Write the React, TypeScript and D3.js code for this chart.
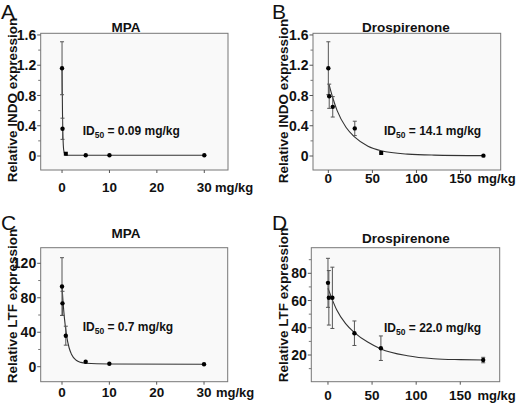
import React from "react";
import * as d3 from "d3";

// ---- data ----
const mpaDoses = [0, 0.1, 0.8, 5, 10, 30];
const drspDoses = [0, 1, 5, 30, 60, 176];

const indoMpaMean = [1.16, 0.36, 0.03, 0.01, 0.01, 0.01];
const indoMpaErr = [0.35, 0.14, 0, 0, 0, 0];
const indoMpaCurveX = [0, 0.1, 0.2, 0.35, 0.6, 1, 5, 30];
const indoMpaCurveY = [1.16, 0.55, 0.25, 0.08, 0.02, 0.01, 0.01, 0.01];

const indoDrspMean = [1.16, 0.79, 0.65, 0.365, 0.04, 0.005];
const indoDrspErr = [0.35, 0.16, 0.135, 0.095, 0, 0];
const indoDrspCurveX = [1, 3, 5, 10, 20, 30, 45, 60, 90, 120, 176];
const indoDrspCurveY = [0.94, 0.85, 0.77, 0.6, 0.38, 0.25, 0.13, 0.07, 0.025, 0.012, 0.005];

const ltfMpaMean = [93, 73.5, 36, 5.8, 3.5, 2.8];
const ltfMpaErr = [33.5, 14, 11, 0, 0, 0];
const ltfMpaCurveX = [0, 0.25, 0.5, 1, 1.5, 2, 3, 4, 5, 10, 30];
const ltfMpaCurveY = [93, 73, 57, 35, 22, 14.5, 7.5, 5, 4, 3.2, 2.8];

const ltfDrspMean = [73, 62, 62, 36, 25, 16.3];
const ltfDrspErr = [18, 20, 22.5, 9, 9, 2];
const ltfDrspCurveX = [0, 5, 10, 20, 30, 45, 60, 90, 120, 150, 176];
const ltfDrspCurveY = [69, 60.5, 53, 43, 36.5, 29.5, 24.5, 19.5, 17.3, 16.6, 16.3];

const mpaXTicks = [0, 10, 20, 30];
const drspXTicks = [0, 50, 100, 150];
const indoYTicks = [0, 0.4, 0.8, 1.2, 1.6];
const indoYMinor = [0.2, 0.6, 1.0, 1.4];
const ltfMpaYTicks = [0, 40, 80, 120];
const ltfMpaYMinor = [20, 60, 100];
const ltfDrspYTicks = [20, 40, 60, 80];
const ltfDrspYMinor = [10, 30, 50, 70, 90];

const panelLetters = ["A", "B", "C", "D"];
const titles = ["MPA", "Drospirenone", "MPA", "Drospirenone"];
const yLabels = [
  "Relative INDO expression",
  "Relative INDO expression",
  "Relative LTF expression",
  "Relative LTF expression",
];
const id50Values = ["0.09", "14.1", "0.7", "22.0"];
const unitLabel = "mg/kg";

// ---- layout ----
const FONT = "'Liberation Sans', Arial, Helvetica, sans-serif";

const panels = [
  {
    doses: mpaDoses, mean: indoMpaMean, err: indoMpaErr, cx: indoMpaCurveX, cy: indoMpaCurveY,
    xTicks: mpaXTicks, yTicks: indoYTicks, yMinor: indoYMinor, yFmt: (v: number) => (v === 0 ? "0" : d3.format(".1f")(v)),
    box: { x0: 40.7, x1: 228, y0: 33.3, y1: 170 }, xDom: [-4.5, 35], yDom: [-0.185, 1.622],
    letter: { x: 1, y: 19 }, title: { x: 126, y: 31.7 }, yl: { x: 17.3, y: 100 },
    id50: { x: 82.7, y: 135 }, xlabY: 192, unitX: 215, squares: [2],
  },
  {
    doses: drspDoses, mean: indoDrspMean, err: indoDrspErr, cx: indoDrspCurveX, cy: indoDrspCurveY,
    xTicks: drspXTicks, yTicks: indoYTicks, yMinor: indoYMinor, yFmt: (v: number) => (v === 0 ? "0" : d3.format(".1f")(v)),
    box: { x0: 313, x1: 500.7, y0: 33.3, y1: 170 }, xDom: [-17.4, 195.6], yDom: [-0.185, 1.622],
    letter: { x: 272, y: 19 }, title: { x: 405.8, y: 31.7 }, yl: { x: 288, y: 101 },
    id50: { x: 384, y: 135 }, xlabY: 182.5, unitX: 477.5, squares: [4],
  },
  {
    doses: mpaDoses, mean: ltfMpaMean, err: ltfMpaErr, cx: ltfMpaCurveX, cy: ltfMpaCurveY,
    xTicks: mpaXTicks, yTicks: ltfMpaYTicks, yMinor: ltfMpaYMinor, yFmt: (v: number) => String(v),
    box: { x0: 40.7, x1: 227.7, y0: 247.7, y1: 381.7 }, xDom: [-4.5, 35], yDom: [-17.4, 138.1],
    letter: { x: 1, y: 230 }, title: { x: 126, y: 238.3 }, yl: { x: 16.7, y: 306 },
    id50: { x: 82.7, y: 330.7 }, xlabY: 396.5, unitX: 216, squares: [] as number[],
  },
  {
    doses: drspDoses, mean: ltfDrspMean, err: ltfDrspErr, cx: ltfDrspCurveX, cy: ltfDrspCurveY,
    xTicks: drspXTicks, yTicks: ltfDrspYTicks, yMinor: ltfDrspYMinor, yFmt: (v: number) => String(v),
    box: { x0: 311.3, x1: 499.7, y0: 247.7, y1: 381.7 }, xDom: [-18.9, 194.7], yDom: [0.4, 98.8],
    letter: { x: 272, y: 230 }, title: { x: 405.8, y: 242.7 }, yl: { x: 288, y: 305 },
    id50: { x: 384, y: 331.7 }, xlabY: 399.5, unitX: 477.5, squares: [] as number[],
  },
];

function Panel({ p, i }: { p: (typeof panels)[number]; i: number }) {
  const { box } = p;
  const x = d3.scaleLinear().domain(p.xDom).range([box.x0, box.x1]);
  const y = d3.scaleLinear().domain(p.yDom).range([box.y1, box.y0]);
  const pts = p.cx.map((v, k) => [v, p.cy[k]] as [number, number]);
  const line = d3
    .line<[number, number]>()
    .x((d) => x(d[0]))
    .y((d) => y(d[1]))
    .curve(d3.curveMonotoneX);
  return (
    <g>
      <text x={p.letter.x} y={p.letter.y} fontSize={21} fontFamily={FONT} fill="#111">
        {panelLetters[i]}
      </text>
      <text x={p.title.x} y={p.title.y} fontSize={13.5} fontWeight="bold" textAnchor="middle" fontFamily={FONT} fill="#111">
        {titles[i]}
      </text>
      <text
        transform={`translate(${p.yl.x},${p.yl.y}) rotate(-90)`}
        fontSize={13.5}
        fontWeight="bold"
        textAnchor="middle"
        fontFamily={FONT}
        fill="#111"
      >
        {yLabels[i]}
      </text>
      <rect x={box.x0} y={box.y0} width={box.x1 - box.x0} height={box.y1 - box.y0} fill="#f9f9f9" stroke="#777" strokeWidth={1} />
      {/* y ticks */}
      {p.yTicks.map((t) => (
        <g key={"yt" + t}>
          <line x1={box.x0 - 3.5} x2={box.x0} y1={y(t)} y2={y(t)} stroke="#555" />
          <text x={box.x0 - 4.5} y={y(t)} dy="0.36em" fontSize={14} fontWeight="bold" textAnchor="end" fontFamily={FONT} fill="#111">
            {p.yFmt(t)}
          </text>
        </g>
      ))}
      {p.yMinor.map((t) => (
        <line key={"ym" + t} x1={box.x0 - 2.5} x2={box.x0} y1={y(t)} y2={y(t)} stroke="#777" />
      ))}
      {/* x ticks */}
      {p.xTicks.map((t) => (
        <g key={"xt" + t}>
          <line x1={x(t)} x2={x(t)} y1={box.y1} y2={box.y1 + 3} stroke="#555" />
          <text x={x(t)} y={p.xlabY} fontSize={13.5} fontWeight="bold" textAnchor="middle" fontFamily={FONT} fill="#111">
            {t}
          </text>
        </g>
      ))}
      <text x={p.unitX} y={p.xlabY} fontSize={13} fontWeight="bold" fontFamily={FONT} fill="#111">
        {unitLabel}
      </text>
      {/* fitted curve */}
      <path d={line(pts) || ""} fill="none" stroke="#333" strokeWidth={1.1} />
      {/* error bars */}
      {p.doses.map((d, k) =>
        p.err[k] > 0 ? (
          <g key={"e" + k} stroke="#555" strokeWidth={1}>
            <line x1={x(d)} x2={x(d)} y1={y(p.mean[k] - p.err[k])} y2={y(p.mean[k] + p.err[k])} />
            <line x1={x(d) - 2} x2={x(d) + 2} y1={y(p.mean[k] + p.err[k])} y2={y(p.mean[k] + p.err[k])} />
            <line x1={x(d) - 2} x2={x(d) + 2} y1={y(p.mean[k] - p.err[k])} y2={y(p.mean[k] - p.err[k])} />
          </g>
        ) : null
      )}
      {/* points */}
      {p.doses.map((d, k) =>
        p.squares.includes(k) ? (
          <rect key={"p" + k} x={x(d) - 2} y={y(p.mean[k]) - 2} width={4} height={4} fill="#000" />
        ) : (
          <circle key={"p" + k} cx={x(d)} cy={y(p.mean[k])} r={2.2} fill="#000" />
        )
      )}
      {/* ID50 */}
      <text x={p.id50.x} y={p.id50.y} fontSize={12} fontWeight="bold" fontFamily={FONT} fill="#111">
        ID
        <tspan fontSize={8.5} dy={3}>50</tspan>
        <tspan dy={-3}>{` = ${id50Values[i]} ${unitLabel}`}</tspan>
      </text>
    </g>
  );
}

export default function App() {
  return (
    <svg
      width={517}
      height={403}
      style={{ position: "absolute", left: 0, top: 0, background: "#fff" }}
    >
      <rect width={517} height={403} fill="#fff" />
      {panels.map((p, i) => (
        <Panel key={i} p={p} i={i} />
      ))}
    </svg>
  );
}
